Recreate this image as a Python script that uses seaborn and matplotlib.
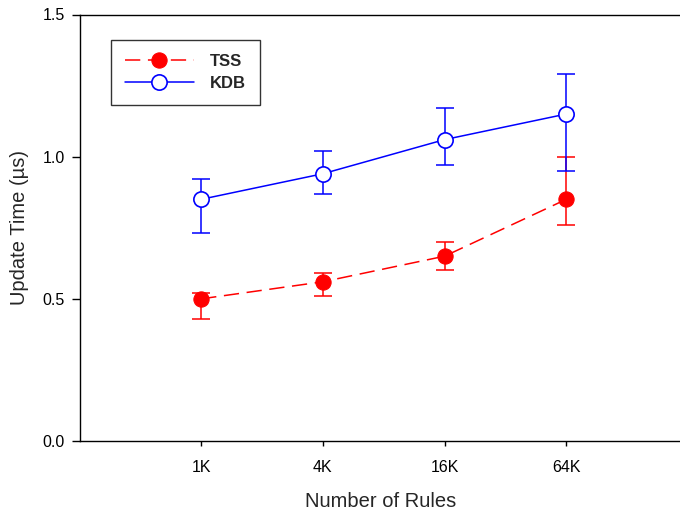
import numpy as np
import pandas as pd
import matplotlib
matplotlib.use("Agg")
import matplotlib.pyplot as plt
import seaborn as sns

# Number of rules (x categories)
rules = ["1K", "4K", "16K", "64K"]

# Update time (µs) per series, with lower/upper error bounds
tss = [0.50, 0.56, 0.65, 0.85]
tss_lo = [0.43, 0.51, 0.60, 0.76]
tss_hi = [0.52, 0.59, 0.70, 1.00]

kdb = [0.85, 0.94, 1.06, 1.15]
kdb_lo = [0.73, 0.87, 0.97, 0.95]
kdb_hi = [0.92, 1.02, 1.17, 1.29]

sns.set_theme(style="ticks")
plt.rcParams["font.family"] = ["Liberation Sans", "DejaVu Sans"]

pos = np.arange(1, len(rules) + 1)
df = pd.DataFrame({
    "pos": np.concatenate([pos, pos]),
    "time": tss + kdb,
    "method": ["TSS"] * 4 + ["KDB"] * 4,
})

fig = plt.figure(figsize=(6.8, 5.12), dpi=100)
ax = fig.add_axes([79.5 / 680, 71 / 512, 602 / 680, (441 - 14.5) / 512])

red = "#ff0000"
blue = "#0000ff"

# error bars first so markers sit on top
ax.errorbar(pos, tss, yerr=[np.array(tss) - np.array(tss_lo), np.array(tss_hi) - np.array(tss)],
            fmt="none", ecolor=red, elinewidth=1.1, capsize=6.5, capthick=1.1, zorder=2)
ax.errorbar(pos, kdb, yerr=[np.array(kdb) - np.array(kdb_lo), np.array(kdb_hi) - np.array(kdb)],
            fmt="none", ecolor=blue, elinewidth=1.1, capsize=6.5, capthick=1.1, zorder=2)

sns.lineplot(data=df[df.method == "TSS"], x="pos", y="time", ax=ax, color=red,
             lw=1.1, marker="o", markersize=11, markerfacecolor=red, markeredgecolor=red,
             label="TSS", zorder=3)
sns.lineplot(data=df[df.method == "KDB"], x="pos", y="time", ax=ax, color=blue,
             lw=1.1, marker="o", markersize=11, markerfacecolor="white", markeredgecolor=blue,
             markeredgewidth=1.2, label="KDB", zorder=3)
for ln in ax.get_lines():
    if ln.get_label() == "TSS":
        ln.set_dashes((10, 5))

ax.set_xlim(0, 602 / 121.7)
ax.set_ylim(0, 1.5)
ax.set_xticks(pos)
ax.set_xticklabels(rules)
ax.set_yticks([0.0, 0.5, 1.0, 1.5])
ax.set_yticklabels(["0.0", "0.5", "1.0", "1.5"])
ax.tick_params(axis="both", direction="out", labelsize=11.5, colors="black", width=1)
ax.tick_params(axis="y", length=5.5, pad=5)
ax.tick_params(axis="x", length=3.8, pad=10)
ax.set_xlabel("Number of Rules", fontsize=14.5, labelpad=12)
ax.set_ylabel("Update Time (µs)", fontsize=14.5, labelpad=10)
for s in ax.spines.values():
    s.set_color("black")
    s.set_linewidth(1)
ax.spines["right"].set_visible(False)

leg = ax.legend(loc="upper left", bbox_to_anchor=(31.5 / 602, 1 - 25.5 / 426.5),
                borderaxespad=0, frameon=True, fancybox=False, edgecolor="black",
                handlelength=4.1, handletextpad=1.0, borderpad=0.85, labelspacing=0.4,
                prop={"weight": "bold", "size": 12})
leg.get_frame().set_linewidth(1)

fig.savefig("out.png", dpi=100)
